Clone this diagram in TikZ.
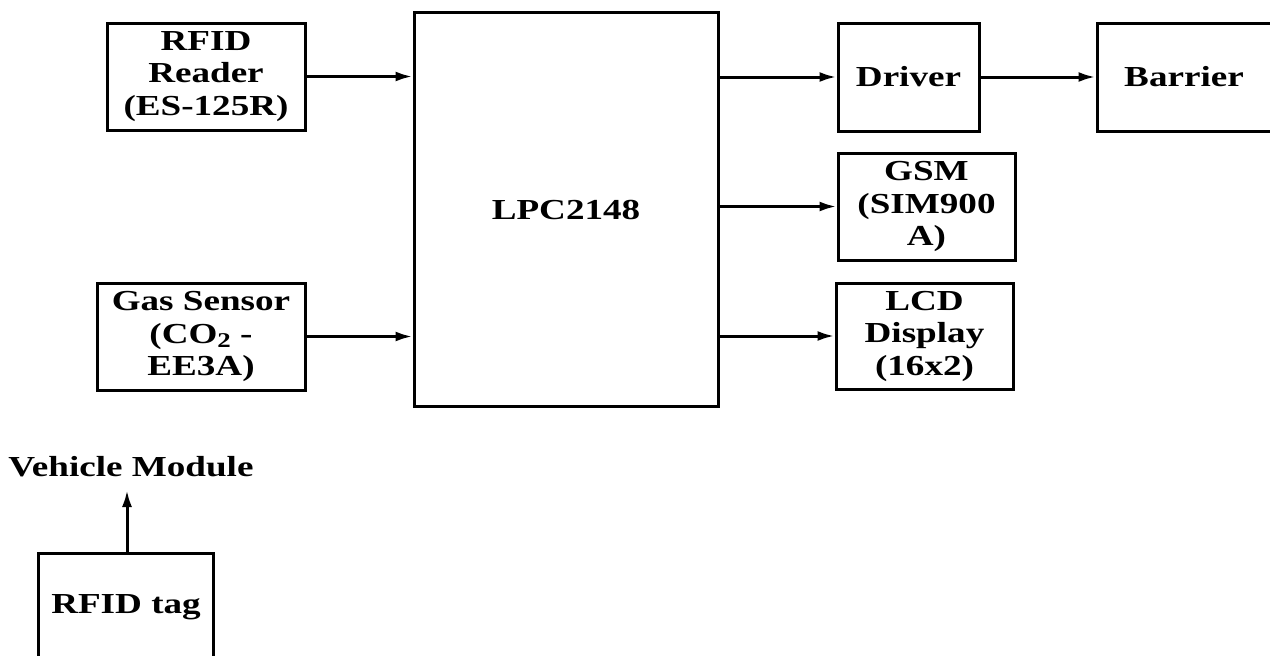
\documentclass[tikz,border=0pt]{standalone}
\usepackage{fontspec}
\setmainfont{Liberation Serif}[FakeStretch=1.28]
\usetikzlibrary{arrows.meta}
\newcommand{\subtwo}{\raisebox{-0.35ex}{\fontsize{21}{21}\selectfont 2}}
\begin{document}
\begin{tikzpicture}[x=1pt,y=-1pt,
  box/.style={draw=black, line width=3pt, rectangle, inner sep=0pt, align=center,
    font=\fontsize{29}{32.5}\selectfont\bfseries},
  lbl/.style={inner sep=0pt, font=\fontsize{29}{32.5}\selectfont\bfseries},
  arr/.style={line width=3pt, -{Latex[length=17pt,width=10pt]}}]
\useasboundingbox (0,0) rectangle (1270,656);
\clip (0,0) rectangle (1270,656);
\node[box, minimum width=198pt, minimum height=107pt] (rfid) at (206,76.5) {RFID\\Reader\\(ES-125R)};
\node[box, minimum width=208pt, minimum height=107pt] (gas) at (201,336.5) {Gas Sensor\\(CO\subtwo\ -\\EE3A)};
\node[box, minimum width=304pt, minimum height=394pt] (lpc) at (566,209.5) {LPC2148};
\node[box, minimum width=141pt, minimum height=108pt] (drv) at (908.5,77) {Driver};
\node[box, minimum width=200pt, minimum height=108pt] (bar) at (1197,77) {};
\node[lbl] (bartxt) at (1184,77) {Barrier};
\node[box, minimum width=177pt, minimum height=107pt] (gsm) at (926.5,206.5) {GSM\\(SIM900\\A)};
\node[box, minimum width=177pt, minimum height=106pt] (lcd) at (924.5,336) {LCD\\Display\\(16x2)};
\node[box, minimum width=175pt, minimum height=118pt] (tag) at (125.5,612) {};
\node[lbl] (tagtxt) at (126,607) {RFID tag};
\node[lbl, anchor=base] (vm) at (131,476) {Vehicle Module};
\coordinate (tagtop) at ([xshift=1.5pt]tag.north);
\coordinate (vmb) at ([yshift=-14pt]vm.base);
\draw[arr] (rfid.east) -- (rfid.east -| lpc.west);
\draw[arr] (gas.east) -- (gas.east -| lpc.west);
\draw[arr] (drv.west -| lpc.east) -- (drv.west);
\draw[arr] (gsm.west -| lpc.east) -- (gsm.west);
\draw[arr] (lcd.west -| lpc.east) -- (lcd.west);
\draw[arr] (drv.east) -- (bar.west);
\draw[arr] (tagtop) -- (vmb -| tagtop);
\end{tikzpicture}
\end{document}
